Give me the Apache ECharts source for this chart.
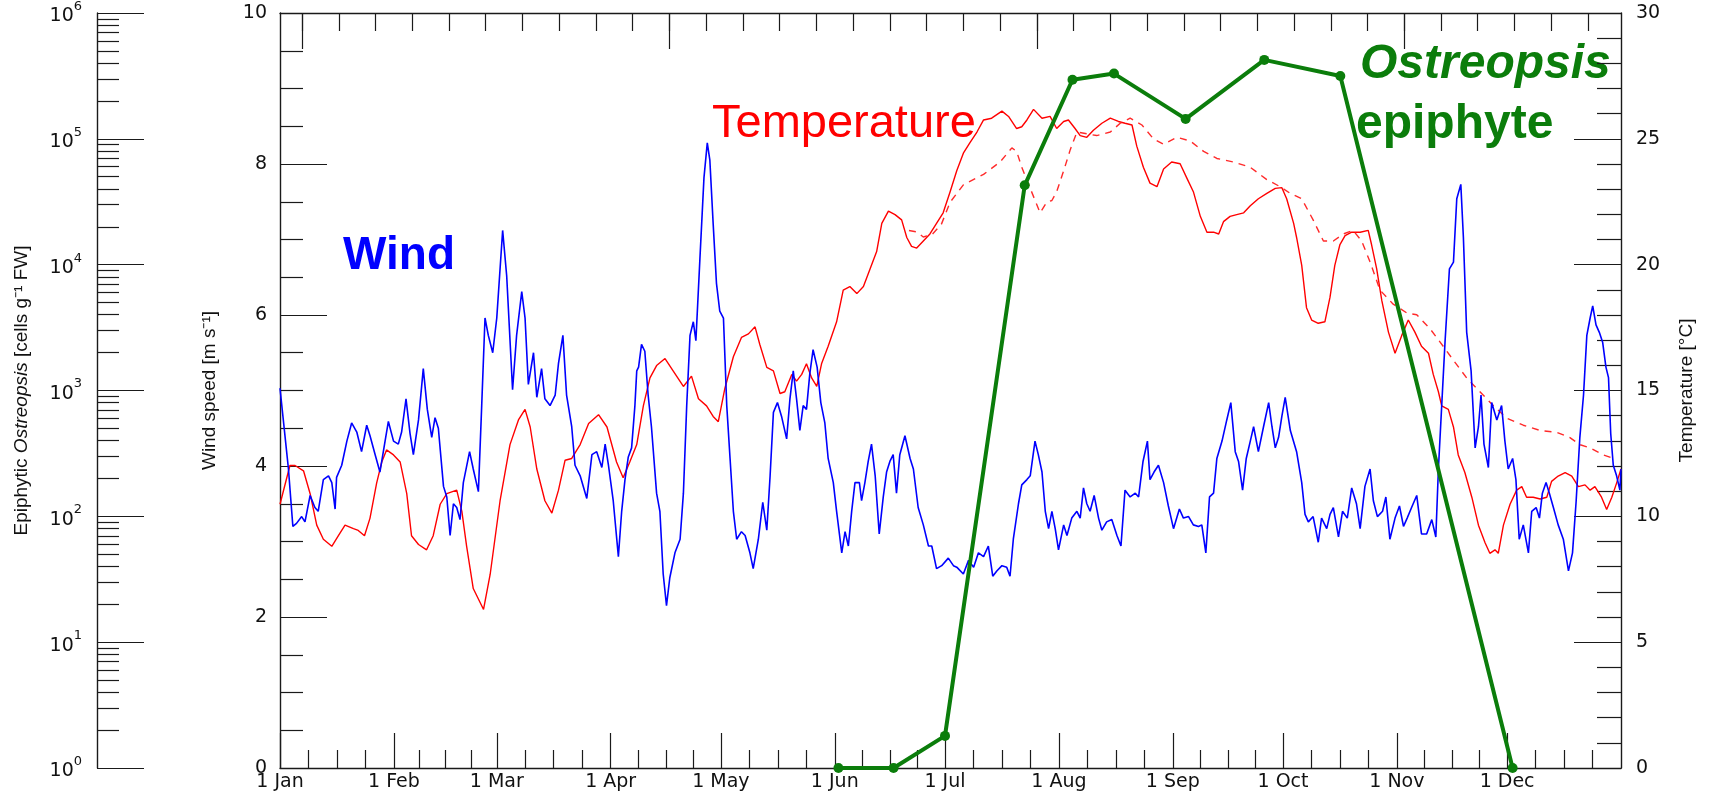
<!DOCTYPE html>
<html>
<head>
<meta charset="utf-8">
<script src="https://cdn.jsdelivr.net/npm/echarts@6/dist/echarts.min.js"></script>
<style>
html, body { margin: 0; padding: 0; background: #fff; }
#chart { width: 1709px; height: 794px; }
</style>
</head>
<body>
<div id="chart"></div>
<script>
// x axis: day of year
var monthStarts = [0, 31, 59, 90, 120, 151, 181, 212, 243, 273, 304, 334];
var monthNames = ['1 Jan', '1 Feb', '1 Mar', '1 Apr', '1 May', '1 Jun', '1 Jul', '1 Aug', '1 Sep', '1 Oct', '1 Nov', '1 Dec'];

// wind speed [m s-1], [day, value]
var wind = [
	[0,5.03],[0.9,4.61],[2.3,3.96],[3.5,3.20],[4.5,3.24],[5.9,3.33],[6.8,3.26],[8.2,3.61],[9.5,3.45],[10.4,3.40],
	[11.8,3.82],[13.2,3.87],[14.1,3.78],[15,3.43],[15.4,3.85],[16.8,4.01],[18.2,4.33],[19.5,4.57],[20.9,4.45],[22.2,4.19],
	[23.6,4.54],[24.5,4.40],[25.9,4.15],[27.2,3.92],[28.6,4.33],[29.5,4.59],[30.9,4.33],[32.2,4.29],[33.1,4.45],[34.3,4.89],
	[35.4,4.43],[36.3,4.15],[37.7,4.61],[39,5.29],[40.1,4.75],[41.3,4.38],[42.2,4.64],[43.1,4.50],[44.5,3.73],[45.4,3.59],
	[46.3,3.08],[47.2,3.50],[48.1,3.45],[49,3.29],[49.9,3.78],[51.6,4.19],[52.6,3.96],[54,3.66],[54.9,4.80],[55.8,5.96],
	[56.7,5.73],[57.9,5.50],[59,5.96],[60.6,7.12],[61.7,6.52],[63.3,5.01],[64.4,5.73],[65.8,6.31],[66.7,5.96],[67.6,5.08],
	[69,5.50],[69.9,4.91],[71.2,5.29],[72.1,4.89],[73.5,4.80],[74.9,4.94],[75.8,5.36],[77,5.73],[78,4.94],[79.4,4.52],
	[80.3,4.01],[81.7,3.87],[83.5,3.57],[84.9,4.15],[86.2,4.19],[87.6,3.98],[88.5,4.29],[89.4,4.01],[90.7,3.54],[92.1,2.80],
	[93,3.40],[93.9,3.82],[94.8,4.12],[95.7,4.24],[96.6,4.80],[97.1,5.26],[97.6,5.31],[98.4,5.61],[99.3,5.52],[100.2,4.94],
	[101.1,4.52],[102.5,3.64],[103.4,3.40],[104.3,2.57],[105.2,2.15],[106.1,2.52],[107.5,2.85],[108.9,3.03],[109.8,3.64],[110.7,4.80],
	[111.6,5.73],[112.5,5.91],[113.2,5.66],[114.3,6.75],[115.4,7.82],[116.3,8.28],[117,8.05],[117.9,7.21],[118.8,6.42],[119.7,6.05],
	[120.7,5.96],[121.6,4.80],[122.5,4.10],[123.4,3.40],[124.3,3.03],[125.6,3.13],[126.6,3.08],[127.9,2.85],[128.8,2.64],[130.2,3.03],
	[131.4,3.52],[132.5,3.15],[133.4,3.87],[134.3,4.71],[135.4,4.84],[136.5,4.66],[137.9,4.36],[138.8,4.89],[139.7,5.26],[140.6,4.89],
	[141.5,4.47],[142.4,4.80],[143.3,4.75],[144.2,5.22],[145.1,5.54],[146.2,5.31],[147.2,4.84],[148.3,4.57],[149.2,4.10],[150.6,3.78],
	[151.5,3.40],[152.9,2.85],[153.8,3.13],[154.7,2.94],[155.6,3.40],[156.5,3.78],[157.7,3.78],[158.3,3.54],[159.2,3.78],[160.1,4.06],
	[161,4.29],[162,3.87],[163.1,3.10],[164.2,3.59],[165.1,3.92],[166,4.06],[166.9,4.15],[167.8,3.64],[168.7,4.15],[170.1,4.40],
	[171.5,4.10],[172.4,3.96],[173.7,3.45],[175.1,3.22],[176.5,2.94],[177.4,2.94],[178.7,2.64],[180.1,2.68],[181.9,2.78],[183.3,2.68],
	[184.2,2.66],[186,2.57],[187.4,2.75],[188.8,2.66],[190.1,2.85],[191.5,2.80],[192.8,2.94],[194,2.54],[195.1,2.61],[196.5,2.68],
	[197.8,2.66],[198.7,2.54],[199.6,3.03],[201,3.50],[201.9,3.75],[203.3,3.82],[204.2,3.87],[205.5,4.33],[206.4,4.15],[207.4,3.92],
	[208.3,3.40],[209.2,3.17],[210.1,3.40],[211,3.17],[211.9,2.89],[213.3,3.22],[214.2,3.08],[215.5,3.31],[216.9,3.40],[217.8,3.31],
	[218.7,3.71],[219.6,3.50],[220.5,3.40],[221.6,3.61],[222.8,3.31],[223.7,3.15],[225,3.26],[226.4,3.29],[227.8,3.08],[228.9,2.94],
	[230,3.68],[231.4,3.59],[232.8,3.64],[233.7,3.59],[234.9,4.06],[236.1,4.33],[236.8,3.82],[237.9,3.92],[239.1,4.01],[240.5,3.78],
	[241.8,3.47],[243.2,3.17],[244.8,3.43],[245.9,3.31],[247.3,3.33],[248.6,3.22],[250,3.20],[250.9,3.22],[252,2.85],[253,3.59],
	[254.1,3.64],[255,4.10],[256.4,4.33],[257.7,4.61],[258.8,4.84],[260,4.19],[260.9,4.06],[262,3.68],[263,4.10],[264.1,4.33],
	[265,4.52],[266.3,4.19],[267.7,4.52],[269.1,4.84],[270,4.52],[270.9,4.24],[271.8,4.38],[272.7,4.66],[273.6,4.91],[275,4.47],
	[276.7,4.19],[278.1,3.78],[279,3.36],[279.9,3.26],[281.2,3.33],[282.6,2.99],[283.5,3.31],[284.9,3.17],[285.8,3.36],[286.7,3.45],
	[288.1,3.06],[289.2,3.40],[290.5,3.31],[291.7,3.71],[293,3.50],[294,3.17],[295.3,3.73],[296.7,3.96],[297.6,3.54],[298.7,3.33],
	[300.1,3.40],[301,3.59],[302.1,3.03],[303.5,3.31],[304.7,3.47],[305.8,3.20],[306.8,3.31],[308,3.45],[309.4,3.61],[310.7,3.10],
	[312.1,3.10],[313.5,3.29],[314.6,3.06],[315.3,3.96],[316.2,4.80],[317.1,5.64],[318.3,6.61],[319.4,6.70],[320.3,7.54],[321.4,7.73],
	[322.1,7.03],[323,5.77],[324.2,5.26],[325.3,4.24],[326.2,4.52],[326.9,4.94],[327.7,4.29],[328.9,3.98],[329.8,4.84],[331.2,4.61],
	[332.5,4.80],[333.4,4.33],[334.3,3.96],[335.5,4.10],[336.4,3.82],[337.3,3.03],[338.4,3.22],[339.8,2.85],[340.7,3.40],[341.9,3.45],
	[342.8,3.31],[343.6,3.64],[344.6,3.78],[345.5,3.64],[346.6,3.45],[347.9,3.22],[349.3,3.03],[350.7,2.61],[351.8,2.85],[352.8,3.54],
	[353.8,4.38],[354.8,4.94],[355.7,5.73],[356.6,5.96],[357.3,6.12],[358.2,5.87],[359.1,5.77],[360,5.64],[360.9,5.31],[361.6,5.17],
	[362.2,4.43],[362.9,4.01],[363.8,3.87],[364.7,3.68],[365,3.96]
];

// temperature [°C], solid line
var tempSolid = [
	[0,10.48],[2.7,12.02],[4.1,12.02],[6.4,11.81],[8.2,10.9],[10,9.65],[11.8,9.09],[14.1,8.81],[15.9,9.23],[17.7,9.65],
	[20,9.51],[21.3,9.44],[23,9.23],[24.5,9.93],[26.3,11.32],[27.7,12.16],[29,12.64],[30.9,12.44],[32.7,12.16],[34.5,10.9],
	[35.8,9.23],[37.7,8.88],[39.9,8.67],[41.7,9.23],[43.6,10.48],[45.4,10.9],[48.1,11.04],[49.5,10.2],[50.8,8.81],[52.6,7.13],
	[55.4,6.30],[57.2,7.69],[59.9,10.62],[62.6,12.85],[64.9,13.83],[66.7,14.25],[68.1,13.55],[69.9,11.88],[72.1,10.62],[74,10.13],
	[75.8,11.04],[77.6,12.23],[79.4,12.3],[81.7,12.85],[84,13.69],[86.7,14.04],[89,13.55],[91.6,12.16],[93.4,11.53],[95.2,12.16],
	[97.1,12.85],[98.9,14.39],[100.7,15.5],[102.5,15.99],[104.8,16.27],[107,15.78],[109.8,15.16],[112,15.57],[113.9,14.67],[116.1,14.39],
	[117.9,13.97],[119.3,13.76],[121.1,15.09],[123.4,16.34],[125.6,17.11],[127.5,17.25],[129.3,17.53],[130.6,16.83],[132.5,15.92],[134.3,15.78],
	[136.1,14.88],[137.4,14.95],[139.3,15.64],[140.6,15.37],[142,15.64],[143.3,16.06],[144.7,15.5],[146.1,15.16],[147.4,16.06],[149.2,16.76],
	[151.5,17.73],[153.3,18.99],[155.1,19.13],[157,18.85],[158.8,19.13],[160.6,19.83],[162.4,20.52],[163.8,21.64],[165.6,22.13],[167.4,21.99],
	[169.2,21.78],[170.6,21.08],[171.9,20.73],[173.3,20.66],[175.1,20.94],[176.9,21.22],[178.7,21.64],[180.5,22.06],[182.4,22.9],[184.2,23.73],
	[186,24.43],[187.8,24.85],[189.7,25.27],[191.5,25.75],[193.7,25.82],[196.5,26.1],[198.3,25.89],[200.5,25.41],[201.9,25.48],[203.3,25.75],
	[205.1,26.17],[207.4,25.82],[209.6,25.89],[211.4,25.41],[213.3,25.69],[214.6,25.75],[216.4,25.41],[217.8,25.13],[219.6,25.06],[221.4,25.34],
	[223.7,25.62],[226,25.82],[228.2,25.69],[230,25.62],[231.9,25.55],[233.2,24.71],[235,23.87],[236.8,23.24],[238.7,23.1],[240.5,23.8],
	[242.7,24.08],[245,24.01],[246.8,23.45],[248.6,22.9],[250.5,21.92],[252.3,21.29],[254.1,21.29],[255.5,21.22],[256.8,21.71],[258.6,21.92],
	[260.4,21.99],[262.3,22.06],[264.1,22.34],[266.3,22.62],[268.6,22.83],[270.9,23.03],[272.7,23.06],[274,22.62],[275.9,21.64],[276.7,21.08],
	[278.1,19.97],[279.4,18.29],[280.8,17.8],[282.6,17.67],[284.4,17.73],[285.8,18.71],[287.1,19.97],[288.5,20.8],[289.9,21.15],[291.7,21.29],
	[294,21.29],[296.2,21.36],[297.1,20.8],[298.5,19.83],[299.9,18.57],[301.7,17.32],[303.5,16.48],[305.3,17.18],[307.1,17.8],[308.9,17.32],
	[310.7,16.76],[312.6,16.48],[313.9,15.64],[315.3,14.95],[316.2,14.39],[318,14.25],[319.4,13.55],[320.7,12.44],[322.5,11.74],[324.4,10.76],
	[326.2,9.65],[328,8.95],[329.3,8.53],[330.7,8.67],[331.6,8.53],[333,9.65],[334.8,10.48],[336.6,11.04],[338,11.18],[339.3,10.76],
	[341.1,10.76],[343,10.69],[344.8,10.76],[346.1,11.39],[347.9,11.6],[349.8,11.74],[351.6,11.6],[353.4,11.18],[355.2,11.25],[356.6,11.04],
	[357.9,11.18],[359.7,10.76],[361.1,10.27],[362.5,10.76],[363.8,11.32],[365,11.88]
];

// temperature [°C], dashed line
var tempDashed = [
	[171.2,21.36],[173.3,21.3],[175.1,21.1],[177.5,21.2],[180,21.6],[182.4,22.48],[186,23.17],[191.5,23.59],[196,24.08],[199.2,24.64],
	[200.5,24.5],[201.9,23.87],[204.2,23.03],[206.9,22.06],[208.7,22.48],[210.1,22.55],[211.4,22.9],[213.3,23.73],[215.1,24.57],[216.9,25.27],
	[219.6,25.2],[222.3,25.13],[226,25.27],[228.7,25.62],[231.4,25.82],[234.6,25.55],[237.8,24.99],[240.5,24.78],[244.1,25.06],[247.7,24.92],
	[251.4,24.5],[255,24.22],[259.5,24.08],[264.1,23.87],[268.6,23.38],[272.2,23.1],[275,22.83],[278.1,22.62],[281.2,21.78],[284,20.94],
	[286.7,20.94],[289.4,21.22],[292.1,21.36],[294.4,20.94],[296.7,20.11],[299.4,18.99],[303,18.43],[306.7,18.08],[309.4,18.01],[313,17.46],
	[316.6,16.76],[319.4,16.2],[323,15.5],[326.6,14.95],[330.3,14.39],[333.9,13.9],[338.4,13.62],[343,13.41],[347.5,13.34],[351.1,13.13],
	[353.8,12.85],[356.6,12.72],[360.2,12.44],[362.9,12.3]
];

// epiphytic Ostreopsis [cells g-1 FW]; 1 = bottom of the log axis (none found)
var ostreoDays = [152, 167, 181, 202.7, 215.7, 227, 246.5, 267.9, 288.6, 335.5];
var ostreoCells = [1, 1, 1.8, 42700, 295000, 330000, 144000, 424000, 316000, 1];

var AX = '#1a1a1a';
var TICK_FONT = 'DejaVu Sans';
var NAME_FONT = 'Liberation Sans';
var GREEN = '#0b7d0b';

// tick positions: quarter months on the bottom, every 10 days on the top
var quarterTicks = [];
var bounds = monthStarts.concat([365]);
for (var m = 0; m < 12; m++) {
	for (var q = 1; q < 4; q++) {
		quarterTicks.push(bounds[m] + (bounds[m + 1] - bounds[m]) * q / 4);
	}
}
var tenDayTicks = [];
for (var d = 6; d < 365; d += 10) tenDayTicks.push(d);
var hundredDayTicks = [6, 106, 206, 306];

function tickAxis(position, values, len, showLine) {
	return {
		type: 'value', position: position, min: 0, max: 365,
		axisLine: {show: showLine, onZero: false, lineStyle: {color: AX, width: 1.4}},
		axisTick: {inside: true, length: len, customValues: values, lineStyle: {color: AX, width: 1.2}},
		axisLabel: {show: false},
		splitLine: {show: false}
	};
}

var chart = echarts.init(document.getElementById('chart'));

chart.setOption({
	animation: false,
	backgroundColor: '#fff',
	grid: {left: 280, right: 88, top: 13, bottom: 26},
	xAxis: [
		{
			type: 'value', position: 'bottom', min: 0, max: 365,
			axisLine: {onZero: false, lineStyle: {color: AX, width: 1.4}},
			axisTick: {inside: true, length: 35, customValues: monthStarts, lineStyle: {color: AX, width: 1.2}},
			axisLabel: {
				customValues: monthStarts,
				formatter: function (v) { return monthNames[monthStarts.indexOf(v)]; },
				color: '#111', fontFamily: TICK_FONT, fontSize: 19, margin: 5
			},
			splitLine: {show: false}
		},
		tickAxis('bottom', quarterTicks, 18, false),
		tickAxis('top', tenDayTicks, 18, true),
		tickAxis('top', hundredDayTicks, 36, false)
	],
	yAxis: [
		{
			type: 'value', position: 'left', min: 0, max: 10, interval: 2,
			axisLine: {show: true, onZero: false, lineStyle: {color: AX, width: 1.4}},
			axisTick: {inside: true, length: 47, lineStyle: {color: AX, width: 1.2}},
			minorTick: {show: true, splitNumber: 4, length: 23, lineStyle: {color: AX, width: 1.2}},
			axisLabel: {color: '#111', fontFamily: TICK_FONT, fontSize: 19, margin: 13},
			splitLine: {show: false},
			name: 'Wind speed [m s\u207B\u00B9]', nameLocation: 'middle', nameGap: 61, nameRotate: 90,
			nameTextStyle: {color: '#111', fontFamily: NAME_FONT, fontSize: 19}
		},
		{
			type: 'value', position: 'right', min: 0, max: 30, interval: 5,
			axisLine: {show: true, onZero: false, lineStyle: {color: AX, width: 1.4}},
			axisTick: {inside: true, length: 47, lineStyle: {color: AX, width: 1.2}},
			minorTick: {show: true, splitNumber: 5, length: 24, lineStyle: {color: AX, width: 1.2}},
			axisLabel: {color: '#111', fontFamily: TICK_FONT, fontSize: 19, margin: 15},
			splitLine: {show: false},
			name: 'Temperature [\u00B0C]', nameLocation: 'middle', nameGap: 56, nameRotate: 90,
			nameTextStyle: {color: '#111', fontFamily: NAME_FONT, fontSize: 19}
		},
		{
			type: 'log', logBase: 10, position: 'left', offset: 183, min: 1, max: 1e6, splitNumber: 6,
			axisLine: {show: true, onZero: false, lineStyle: {color: AX, width: 1.4}},
			axisTick: {inside: true, length: 47, lineStyle: {color: AX, width: 1.2}},
			minorTick: {show: true, splitNumber: 9, length: 22, lineStyle: {color: AX, width: 1.2}},
			axisLabel: {
				margin: 15,
				formatter: function (v) { return '{b|10}{s|' + Math.round(Math.log10(v)) + '}'; },
				rich: {
					b: {color: '#111', fontFamily: TICK_FONT, fontSize: 19, verticalAlign: 'bottom', lineHeight: 26},
					s: {color: '#111', fontFamily: TICK_FONT, fontSize: 13, verticalAlign: 'top', lineHeight: 26}
				}
			},
			splitLine: {show: false},
			name: 'Epiphytic {i|Ostreopsis} [cells g\u207B\u00B9 FW]', nameLocation: 'middle', nameGap: 66, nameRotate: 90,
			nameTextStyle: {
				color: '#111', fontFamily: NAME_FONT, fontSize: 19,
				rich: {i: {color: '#111', fontFamily: NAME_FONT, fontSize: 19, fontStyle: 'italic'}}
			}
		}
	],
	series: [
		{
			name: 'Temperature', type: 'line', xAxisIndex: 0, yAxisIndex: 1, data: tempSolid,
			showSymbol: false, lineStyle: {color: '#ff0000', width: 1.4}, z: 2
		},
		{
			name: 'Temperature (dashed)', type: 'line', xAxisIndex: 0, yAxisIndex: 1, data: tempDashed,
			showSymbol: false, lineStyle: {color: '#ff2a2a', width: 1.4, type: [7, 6]}, z: 2
		},
		{
			name: 'Wind', type: 'line', xAxisIndex: 0, yAxisIndex: 0, data: wind,
			showSymbol: false, lineStyle: {color: '#0000ff', width: 1.6}, z: 3
		},
		{
			name: 'Ostreopsis', type: 'line', xAxisIndex: 0, yAxisIndex: 2,
			data: ostreoDays.map(function (d, i) { return [d, ostreoCells[i]]; }),
			symbol: 'circle', symbolSize: 10, clip: false,
			lineStyle: {color: GREEN, width: 4}, itemStyle: {color: GREEN}, z: 4
		}
	],
	// in-plot annotations
	graphic: [
		{type: 'text', x: 343, y: 256, style: {text: 'Wind', fill: '#0000ff', fontFamily: NAME_FONT, fontSize: 46, fontWeight: 'bold', verticalAlign: 'middle'}},
		{type: 'text', x: 712, y: 124, style: {text: 'Temperature', fill: '#ff0000', fontFamily: NAME_FONT, fontSize: 47, verticalAlign: 'middle'}},
		{type: 'text', x: 1360, y: 65, style: {text: 'Ostreopsis', fill: GREEN, fontFamily: NAME_FONT, fontSize: 48, fontWeight: 'bold', fontStyle: 'italic', verticalAlign: 'middle'}},
		{type: 'text', x: 1356, y: 125, style: {text: 'epiphyte', fill: GREEN, fontFamily: NAME_FONT, fontSize: 48, fontWeight: 'bold', verticalAlign: 'middle'}}
	]
});
</script>
</body>
</html>
